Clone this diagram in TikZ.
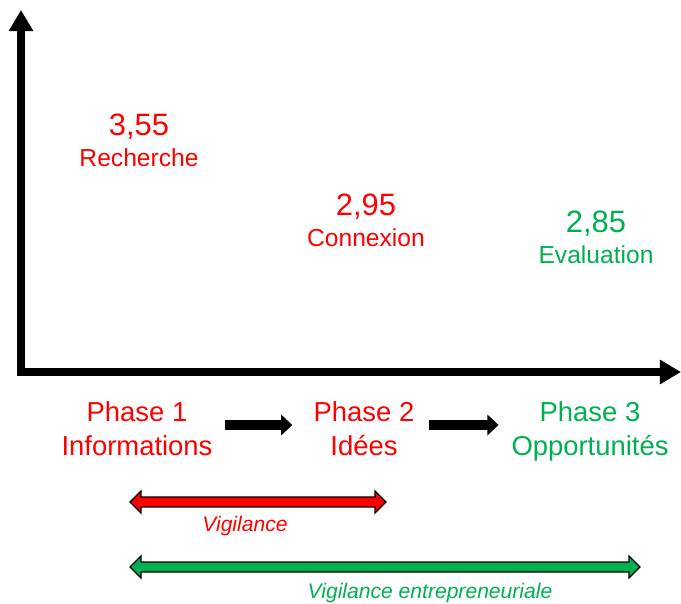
\documentclass[tikz,border=0pt]{standalone}
\usepackage{fontspec}
\setmainfont{Liberation Sans}
\usetikzlibrary{arrows.meta}
\definecolor{vred}{RGB}{255,0,0}
\definecolor{vgreen}{RGB}{0,176,80}
\tikzset{
  axis/.style={line width=5.7pt,-{Triangle[width=16.5pt,length=15pt]}},
  flow/.style={line width=7pt,-{Triangle[width=14.5pt,length=8pt]}},
  score/.style={font=\fontsize{22}{26}\selectfont},
  crit/.style={font=\fontsize{17.5}{21}\selectfont},
  phase/.style={align=center,inner sep=0pt,anchor=north,font=\fontsize{19.5}{24.2}\selectfont},
  vig/.style={font=\fontsize{15}{18}\selectfont\itshape}
}
% double arrow: colour, left x, right x, y
\newcommand{\vigarrow}[4]{
 \draw[fill=#1,line width=0.8pt](#2,#4)--(#2+11,#4-11)--(#2+11,#4-5)--(#3-11,#4-5)--(#3-11,#4-11)
  --(#3,#4)--(#3-11,#4+11)--(#3-11,#4+5)--(#2+11,#4+5)--(#2+11,#4+11)--cycle;
}
\begin{document}
\begin{tikzpicture}[x=0.025cm,y=-0.025cm]
 \useasboundingbox (0,0) rectangle (681,603);
 % axes
 \draw[axis](21,376)--(21,10);
 \draw[axis](17,372)--(681,372);
 % scores
 \node[score,text=vred](v1) at (139,127) {3,55};
 \node[crit,text=vred](c1) at (139,158) {Recherche};
 \node[score,text=vred](v2) at (366,207) {2,95};
 \node[crit,text=vred](c2) at (366,238) {Connexion};
 \node[score,text=vgreen](v3) at (596,224) {2,85};
 \node[crit,text=vgreen](c3) at (596,255) {Evaluation};
 % phases
 \node[phase,text=vred](p1) at (137,401) {Phase 1\\Informations};
 \node[phase,text=vred](p2) at (364,401) {Phase 2\\Idées};
 \node[phase,text=vgreen](p3) at (590,401) {Phase 3\\Opportunités};
 \draw[flow]([xshift=8.5pt]p1.east|-0,425)--([xshift=-15pt]p2.west|-0,425);
 \draw[flow]([xshift=10pt]p2.east|-0,425)--([xshift=-9pt]p3.west|-0,425);
 % vigilance
 \vigarrow{vred}{130}{386}{502}
 \node[vig,text=vred](g1) at (245,526) {Vigilance};
 \vigarrow{vgreen}{130}{640}{567}
 \node[vig,text=vgreen](g2) at (430,593) {Vigilance entrepreneuriale};
\end{tikzpicture}
\end{document}
